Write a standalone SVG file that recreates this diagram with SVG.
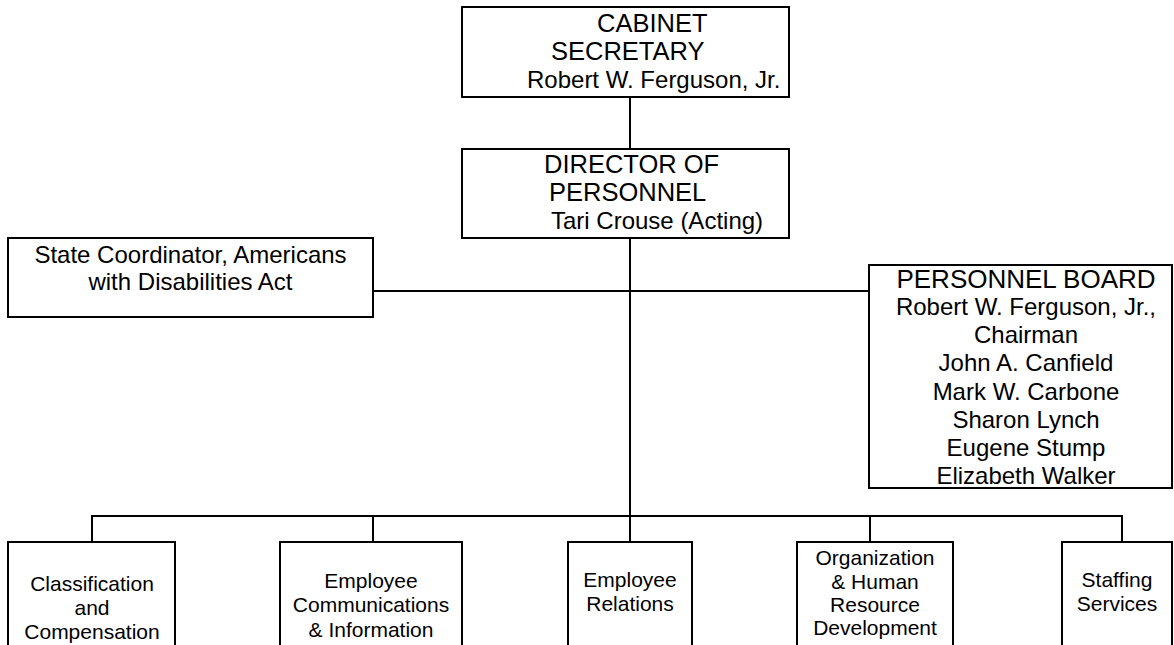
<svg xmlns="http://www.w3.org/2000/svg" width="1174" height="645" viewBox="0 0 1174 645">
<style>
.box{fill:#fff;stroke:#000;stroke-width:2}
.ln{stroke:#000;stroke-width:2;fill:none}
text{font-family:"Liberation Sans",Arial,sans-serif;fill:#000}
.h{font-size:25.5px}
.n{font-size:24px}
.s{font-size:21px;text-anchor:middle}
.c{text-anchor:middle}
</style>
<rect width="1174" height="645" fill="#fff"/>
<g id="connectors">
<line class="ln" x1="630" y1="97" x2="630" y2="149"/>
<line class="ln" x1="630" y1="238" x2="630" y2="516"/>
<line class="ln" x1="373" y1="291" x2="869" y2="291"/>
<line class="ln" x1="92" y1="516" x2="1122" y2="516"/>
<line class="ln" x1="92" y1="515" x2="92" y2="542"/>
<line class="ln" x1="373" y1="515" x2="373" y2="542"/>
<line class="ln" x1="630" y1="515" x2="630" y2="542"/>
<line class="ln" x1="870" y1="515" x2="870" y2="542"/>
<line class="ln" x1="1122" y1="515" x2="1122" y2="542"/>
</g>
<g id="cabinet">
<rect class="box" x="462" y="7" width="327" height="90"/>
<text class="h" x="597" y="32">CABINET</text>
<text class="h" x="551" y="60">SECRETARY</text>
<text class="n" x="527" y="88">Robert W. Ferguson, Jr.</text>
</g>
<g id="director">
<rect class="box" x="462" y="149" width="327" height="89"/>
<text class="h" x="544" y="173">DIRECTOR OF</text>
<text class="h" x="549" y="201">PERSONNEL</text>
<text class="n" x="551" y="229">Tari Crouse (Acting)</text>
</g>
<g id="ada">
<rect class="box" x="8" y="238" width="365" height="79"/>
<text class="n c" x="190.5" y="263">State Coordinator, Americans</text>
<text class="n c" x="190.5" y="290">with Disabilities Act</text>
</g>
<g id="board">
<rect class="box" x="869" y="265" width="303" height="223"/>
<text class="c" style="font-size:26px" x="1026" y="288">PERSONNEL BOARD</text>
<text class="n c" x="1026" y="315">Robert W. Ferguson, Jr.,</text>
<text class="n c" x="1026" y="343">Chairman</text>
<text class="n c" x="1026" y="371">John A. Canfield</text>
<text class="n c" x="1026" y="400">Mark W. Carbone</text>
<text class="n c" x="1026" y="428">Sharon Lynch</text>
<text class="n c" x="1026" y="456">Eugene Stump</text>
<text class="n c" x="1026" y="484">Elizabeth Walker</text>
</g>
<g id="classification">
<rect class="box" x="8" y="542" width="167" height="120"/>
<text class="s" x="92" y="591">Classification</text>
<text class="s" x="92" y="615">and</text>
<text class="s" x="92" y="639">Compensation</text>
</g>
<g id="communications">
<rect class="box" x="280" y="542" width="182" height="120"/>
<text class="s" x="371" y="588">Employee</text>
<text class="s" x="371" y="612">Communications</text>
<text class="s" x="371" y="637">&amp; Information</text>
</g>
<g id="relations">
<rect class="box" x="568" y="542" width="124" height="120"/>
<text class="s" x="630" y="587">Employee</text>
<text class="s" x="630" y="611">Relations</text>
</g>
<g id="orgdev">
<rect class="box" x="797" y="542" width="156" height="120"/>
<text class="s" x="875" y="565">Organization</text>
<text class="s" x="875" y="589">&amp; Human</text>
<text class="s" x="875" y="612">Resource</text>
<text class="s" x="875" y="635">Development</text>
</g>
<g id="staffing">
<rect class="box" x="1062" y="542" width="110" height="120"/>
<text class="s" x="1117" y="587">Staffing</text>
<text class="s" x="1117" y="611">Services</text>
</g>
</svg>
